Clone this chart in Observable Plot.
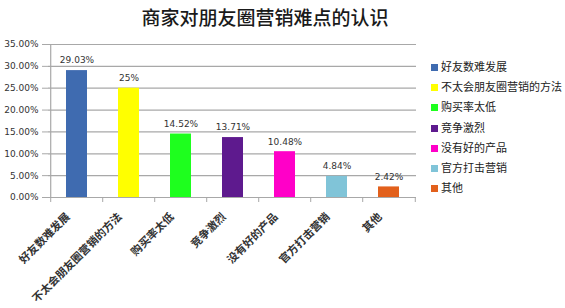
<!DOCTYPE html>
<html><head><meta charset="utf-8">
<script src="https://cdn.jsdelivr.net/npm/d3@7"></script>
<script src="https://cdn.jsdelivr.net/npm/@observablehq/plot@0.6"></script>
<style>
body{margin:0;background:#fff;}
#wrap{position:relative;width:565px;height:308px;overflow:hidden;}
#title{position:absolute;left:0;width:530px;top:4px;text-align:center;font-family:"Noto Sans CJK SC",sans-serif;font-size:19px;font-weight:500;color:#1a1a1a;line-height:26px;}
#legend{position:absolute;left:431px;top:58px;font-family:"Noto Sans CJK SC",sans-serif;font-size:11px;color:#222;}
#legend div{height:20.2px;line-height:16px;white-space:nowrap;}
#legend span{display:inline-block;width:7px;height:7px;margin-right:3px;vertical-align:0px;}
</style></head>
<body>
<div id="wrap"><div id="title">商家对朋友圈营销难点的认识</div><div id="legend"></div></div>
<script>
const categories = ["好友数难发展","不太会朋友圈营销的方法","购买率太低","竞争激烈","没有好的产品","官方打击营销","其他"];
const values = [0.2903, 0.25, 0.1452, 0.1371, 0.1048, 0.0484, 0.0242];
const valueLabels = ["29.03%","25%","14.52%","13.71%","10.48%","4.84%","2.42%"];
const colors = ["#3F6BB0","#FFFF00","#1EFF1E","#5E1A8E","#FF00C8","#80C4D8","#E2601C"];
const yTicks = [0,0.05,0.10,0.15,0.20,0.25,0.30,0.35];

const data = categories.map((c,i)=>({cat:c, v:values[i], label:valueLabels[i]}));
const mL = 48, mR = 149, W = 565;
const step = (W - mL - mR) / categories.length;

const chart = Plot.plot({
  width: W, height: 308,
  marginLeft: mL, marginRight: mR, marginTop: 44, marginBottom: 111,
  style: {fontFamily: "DejaVu Sans, sans-serif", fontSize: "9px", color: "#333", background: "transparent"},
  x: {domain: categories, paddingInner: 0.6, paddingOuter: 0.3, axis: null},
  y: {domain: [0, 0.35], axis: null},
  color: {domain: categories, range: colors},
  marks: [
    Plot.gridY(yTicks, {stroke: "#a8a8a8", strokeOpacity: 1, strokeWidth: 1.2}),
    Plot.axisY(yTicks, {label: null, tickFormat: d3.format(".2%"), tickSize: 6, tickPadding: 4, stroke: "#a8a8a8", fill: "#333", fontSize: 9}),
    Plot.ruleX([categories[0]], {y1: 0, y2: 0.35, dx: -step/2, stroke: "#a8a8a8", strokeWidth: 1.2}),
    Plot.barY(data, {x: "cat", y: "v", fill: "cat"}),
    Plot.ruleY([0], {stroke: "#a8a8a8", strokeWidth: 1.2}),
    Plot.ruleX(categories, {x: d=>d, y1: 0, y2: 0, insetBottom: -5, dx: -step/2, stroke: "#a8a8a8"}),
    Plot.ruleX([categories[categories.length-1]], {x: d=>d, y1: 0, y2: 0, insetBottom: -5, dx: step/2, stroke: "#a8a8a8"}),
    Plot.text(data, {x: "cat", y: "v", text: "label", dy: -10, fill: "#333", fontSize: 9}),
    Plot.text(categories, {x: d=>d, y: 0, text: d=>d, rotate: -45, textAnchor: "end", dx: -9, dy: 17.5, fontSize: 11, fontWeight: "bold", fontFamily: "Noto Sans CJK SC", fill: "#333"})
  ]
});
chart.style.position = "absolute";
chart.style.left = "0px";
chart.style.top = "0px";
document.getElementById("wrap").appendChild(chart);
const lg = document.getElementById("legend");
categories.forEach((c,i)=>{
  const d = document.createElement("div");
  d.innerHTML = `<span style="background:${colors[i]}"></span>${c}`;
  lg.appendChild(d);
});
</script>
</body></html>
